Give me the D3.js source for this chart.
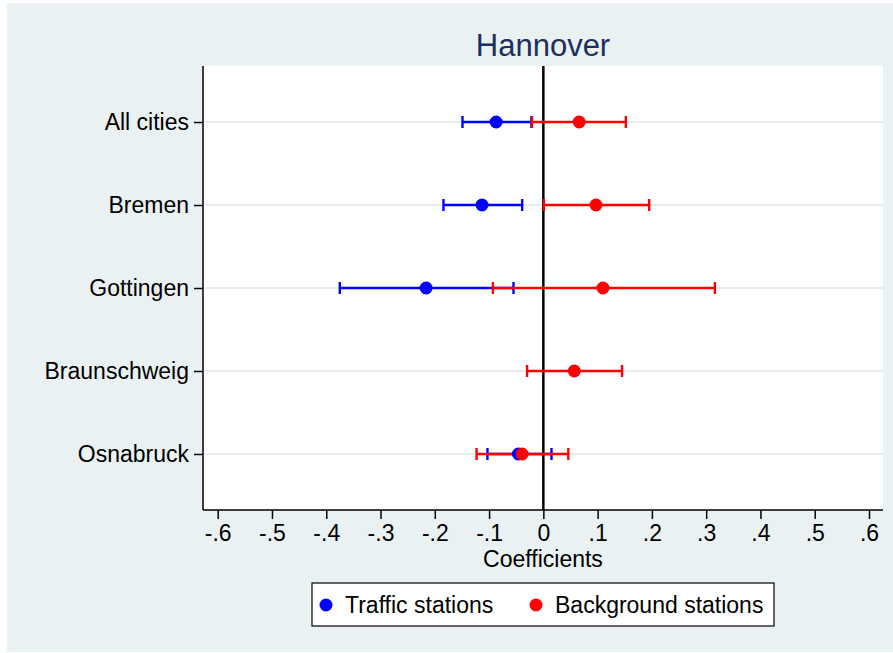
<!DOCTYPE html>
<html>
<head>
    <meta charset="utf-8">
    <script src="https://cdnjs.cloudflare.com/ajax/libs/d3/7.8.5/d3.min.js"></script>
    <style>
        body { margin: 0; background: #fff; }
        text { font-family: "Liberation Sans", Arial, sans-serif; fill: #000; }
        .tick text { font-size: 23px; }
    </style>
</head>
<body>
    <div id="chart"></div>
    <script>
        const width = 893, height = 653;

        // data
        const cities = ["All cities", "Bremen", "Gottingen", "Braunschweig", "Osnabruck"];
        const trafficCoef = [-0.087, -0.113, -0.216, null, -0.046];
        const trafficLo   = [-0.149, -0.184, -0.375, null, -0.103];
        const trafficHi   = [-0.022, -0.039, -0.055, null, 0.015];
        const backCoef    = [0.066, 0.097, 0.110, 0.057, -0.039];
        const backLo      = [-0.021, 0.001, -0.093, -0.030, -0.123];
        const backHi      = [0.152, 0.195, 0.316, 0.145, 0.046];
        const xTicks = [-0.6, -0.5, -0.4, -0.3, -0.2, -0.1, 0, 0.1, 0.2, 0.3, 0.4, 0.5, 0.6];

        const series = [
            { name: "Traffic stations", color: "#0000ff", coef: trafficCoef, lo: trafficLo, hi: trafficHi },
            { name: "Background stations", color: "#ff0000", coef: backCoef, lo: backLo, hi: backHi }
        ];

        const plot = { left: 203, right: 883, top: 66, bottom: 510 };

        const svg = d3.select("#chart").append("svg")
            .attr("width", width).attr("height", height);

        // outer panel
        svg.append("rect")
            .attr("x", 7).attr("y", 3)
            .attr("width", width - 7).attr("height", 649)
            .attr("fill", "#eaf1f3");

        svg.append("rect")
            .attr("x", plot.left).attr("y", plot.top)
            .attr("width", plot.right - plot.left).attr("height", plot.bottom - plot.top)
            .attr("fill", "#fff");

        const x = d3.scaleLinear().domain([-0.6, 0.6]).range([217.7, 869]);
        const y = d3.scalePoint().domain(cities).range([plot.top, plot.bottom]).padding(0.675);

        // grid lines
        svg.append("g").selectAll("line")
            .data(cities)
            .enter().append("line")
            .attr("x1", plot.left).attr("x2", plot.right)
            .attr("y1", d => y(d)).attr("y2", d => y(d))
            .attr("stroke", "#e6eef2")
            .attr("stroke-width", 2);

        // zero line
        svg.append("line")
            .attr("x1", x(0)).attr("x2", x(0))
            .attr("y1", plot.top).attr("y2", plot.bottom)
            .attr("stroke", "#000")
            .attr("stroke-width", 2.5);

        // axes, Stata style labels: -.6, 0, .1
        const fmt = d => d === 0 ? "0" : (d < 0 ? "-" : "") + "." + Math.round(Math.abs(d) * 10);
        const xAxis = svg.append("g")
            .attr("transform", `translate(0,${plot.bottom})`)
            .call(d3.axisBottom(x).tickValues(xTicks).tickFormat(fmt).tickSize(9).tickPadding(6).tickSizeOuter(0));
        xAxis.select(".domain").remove();
        xAxis.append("line")
            .attr("x1", plot.left).attr("x2", plot.right)
            .attr("stroke", "#000").attr("stroke-width", 1.5);
        xAxis.selectAll(".tick line").attr("stroke-width", 1.5);

        const yAxis = svg.append("g")
            .attr("transform", `translate(${plot.left},0)`)
            .call(d3.axisLeft(y).tickSize(9).tickPadding(5).tickSizeOuter(0));
        yAxis.select(".domain").remove();
        yAxis.append("line")
            .attr("y1", plot.top).attr("y2", plot.bottom)
            .attr("stroke", "#000").attr("stroke-width", 1.5);
        yAxis.selectAll(".tick line").attr("stroke-width", 1.5);

        // confidence intervals
        const capH = 6;
        series.forEach(s => {
            const rows = cities.map((c, i) => ({ c, coef: s.coef[i], lo: s.lo[i], hi: s.hi[i] }))
                .filter(r => r.coef !== null);
            const g = svg.append("g").attr("stroke", s.color).attr("stroke-width", 2.4);
            g.selectAll("line.ci").data(rows).enter().append("line")
                .attr("x1", d => x(d.lo)).attr("x2", d => x(d.hi))
                .attr("y1", d => y(d.c)).attr("y2", d => y(d.c));
            g.selectAll("line.lo").data(rows).enter().append("line")
                .attr("x1", d => x(d.lo)).attr("x2", d => x(d.lo))
                .attr("y1", d => y(d.c) - capH).attr("y2", d => y(d.c) + capH);
            g.selectAll("line.hi").data(rows).enter().append("line")
                .attr("x1", d => x(d.hi)).attr("x2", d => x(d.hi))
                .attr("y1", d => y(d.c) - capH).attr("y2", d => y(d.c) + capH);
            s.rows = rows;
        });

        // points
        series.forEach(s => {
            svg.append("g").selectAll("circle")
                .data(s.rows)
                .enter().append("circle")
                .attr("cx", d => x(d.coef))
                .attr("cy", d => y(d.c))
                .attr("r", 6.5)
                .attr("fill", s.color);
        });

        // titles
        svg.append("text")
            .attr("x", (plot.left + plot.right) / 2).attr("y", 56)
            .attr("text-anchor", "middle")
            .style("font-size", "31px")
            .style("fill", "#1c2f5c")
            .text("Hannover");

        svg.append("text")
            .attr("x", (plot.left + plot.right) / 2).attr("y", 567)
            .attr("text-anchor", "middle")
            .style("font-size", "23px")
            .text("Coefficients");

        // legend
        const legend = svg.append("g");
        legend.append("rect")
            .attr("x", 312).attr("y", 583)
            .attr("width", 462).attr("height", 43)
            .attr("fill", "#fff").attr("stroke", "#000").attr("stroke-width", 1.2);
        const legX = [326, 536];
        series.forEach((s, i) => {
            legend.append("circle")
                .attr("cx", legX[i]).attr("cy", 605).attr("r", 6.5)
                .attr("fill", s.color);
            legend.append("text")
                .attr("x", legX[i] + 19).attr("y", 613)
                .style("font-size", "23px")
                .text(s.name);
        });
    </script>
</body>
</html>
